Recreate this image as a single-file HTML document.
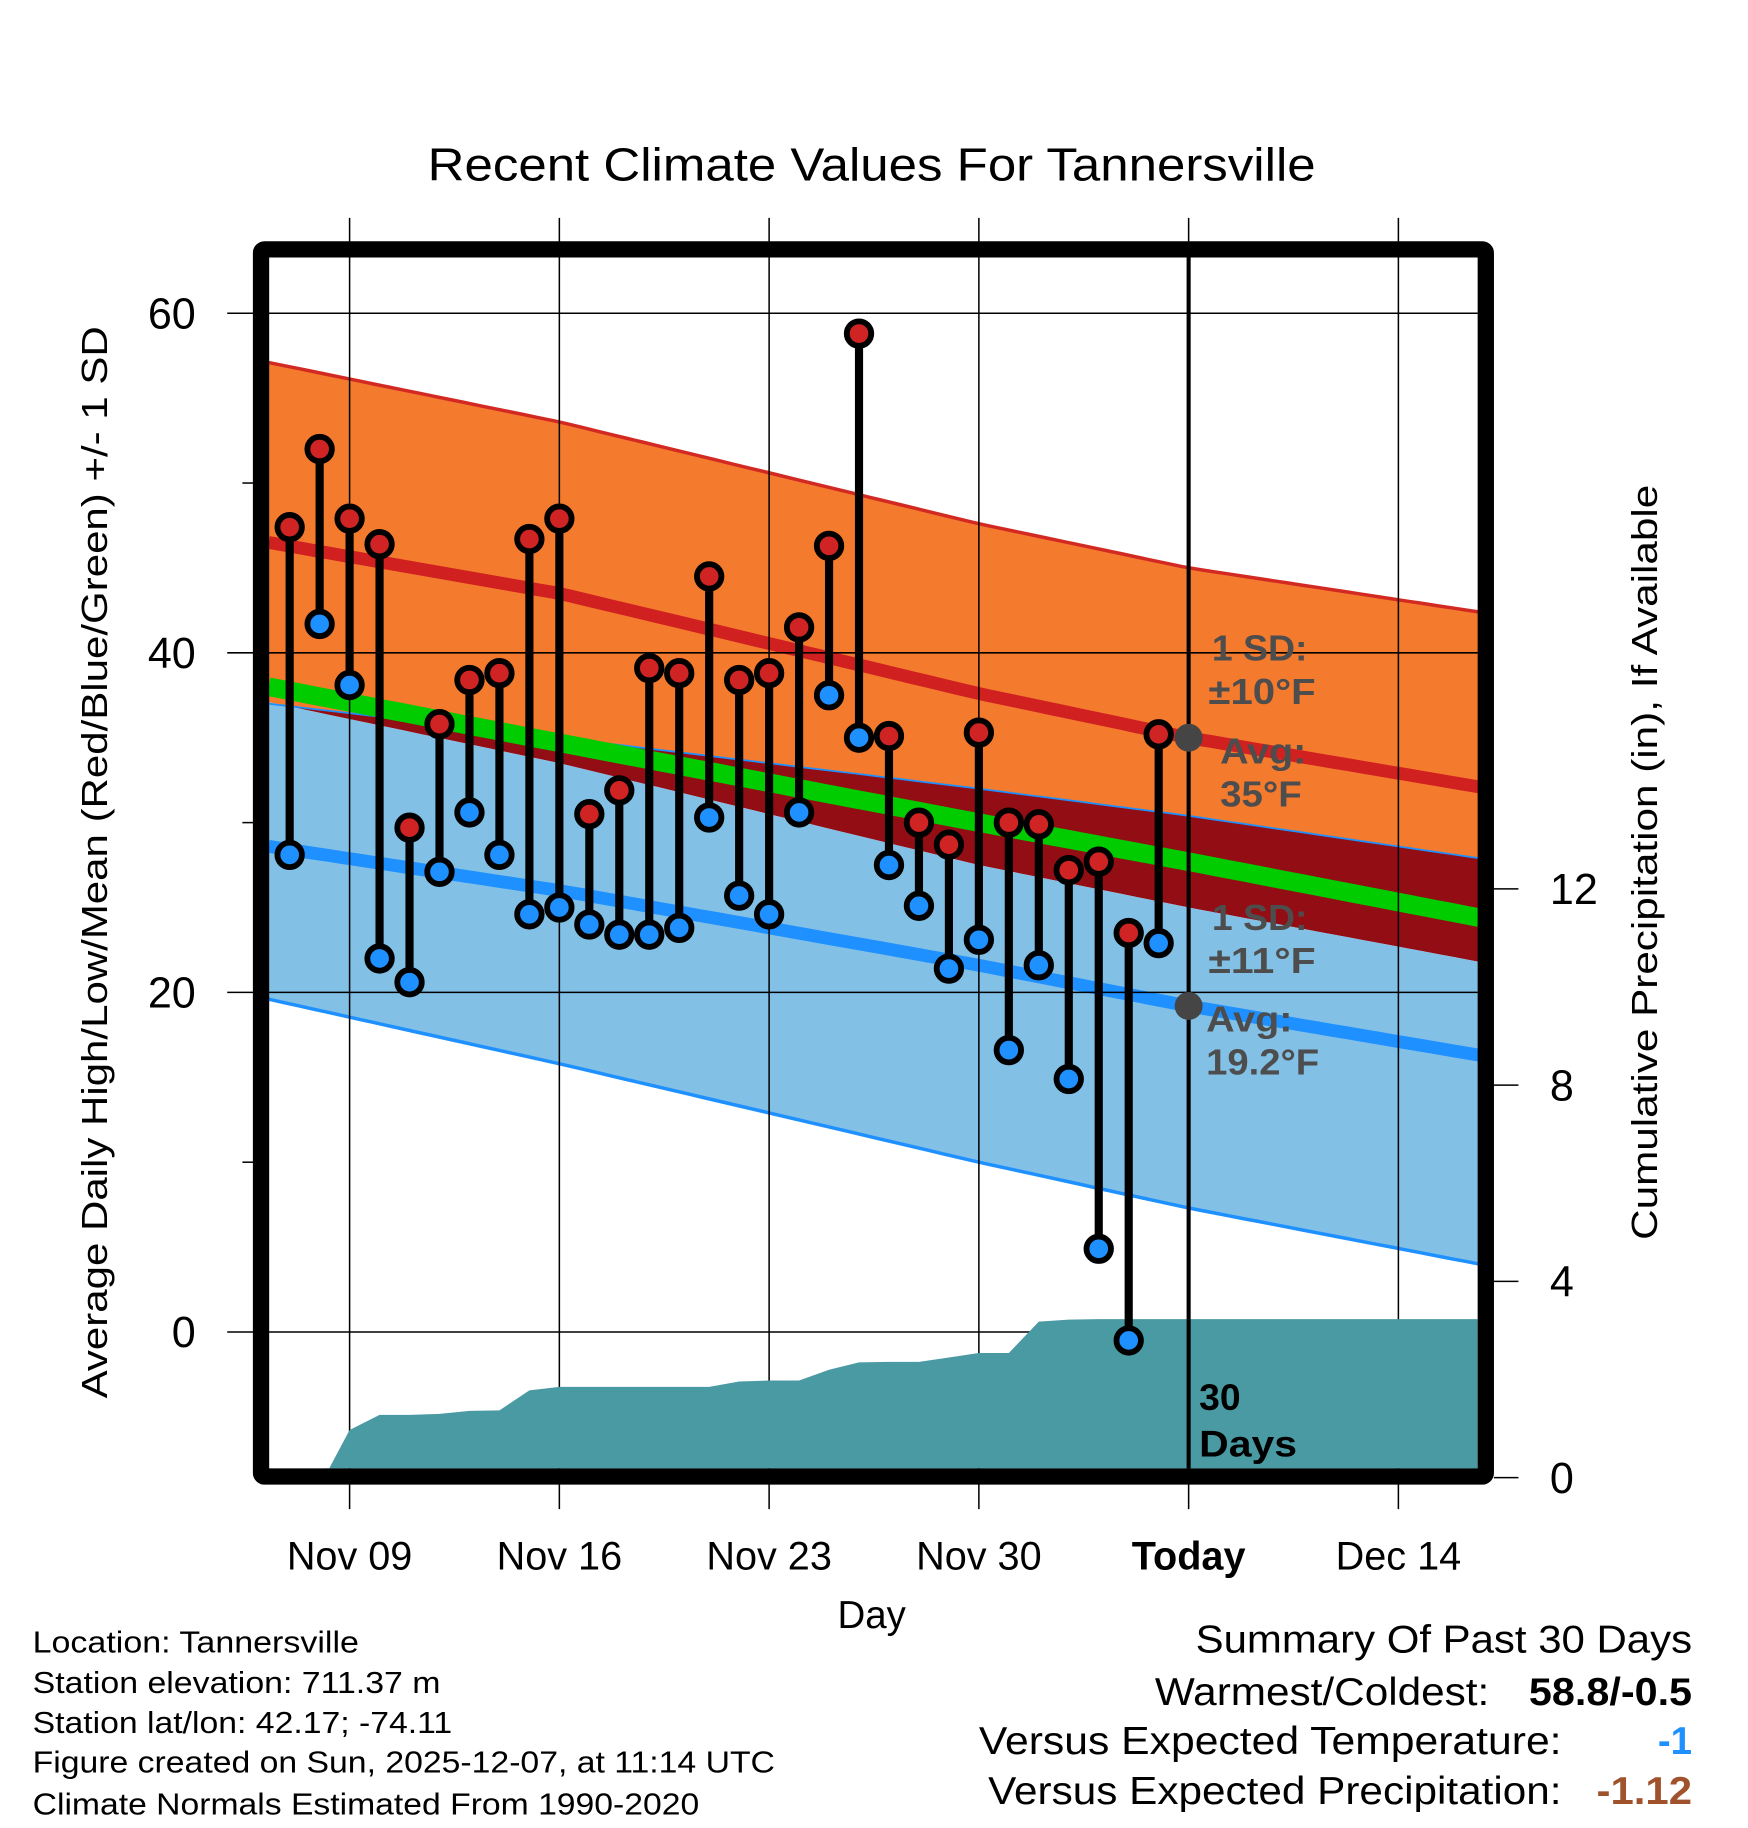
<!DOCTYPE html>
<html><head><meta charset="utf-8"><style>
html,body{margin:0;padding:0;background:#fff;}
svg{display:block;}
text{font-family:"Liberation Sans",sans-serif;}
</style></head>
<body>
<svg id="chart" width="1748" height="1828" viewBox="0 0 1500 1568.65" preserveAspectRatio="none" xmlns="http://www.w3.org/2000/svg">
<g id="bands"></g>
<g id="grid"></g>
<g id="precip"></g>
<g id="marks"></g>
<g id="overlay"></g>
<g id="axes"></g>

<text x="748" y="155" font-size="40" text-anchor="middle" textLength="762" lengthAdjust="spacingAndGlyphs">Recent Climate Values For Tannersville</text>
<text transform="translate(92,740) rotate(-90)" font-size="31" text-anchor="middle" textLength="920" lengthAdjust="spacingAndGlyphs">Average Daily High/Low/Mean (Red/Blue/Green) +/- 1 SD</text>
<text transform="translate(1422,740) rotate(-90)" font-size="31" text-anchor="middle" textLength="648" lengthAdjust="spacingAndGlyphs">Cumulative Precipitation (in), If Available</text>
<text x="748" y="1397" font-size="33" text-anchor="middle">Day</text>

<g font-size="26">
<text x="28" y="1418" textLength="280" lengthAdjust="spacingAndGlyphs">Location: Tannersville</text>
<text x="28" y="1453" textLength="350" lengthAdjust="spacingAndGlyphs">Station elevation: 711.37 m</text>
<text x="28" y="1487" textLength="360" lengthAdjust="spacingAndGlyphs">Station lat/lon: 42.17; -74.11</text>
<text x="28" y="1521" textLength="637" lengthAdjust="spacingAndGlyphs">Figure created on Sun, 2025-12-07, at 11:14 UTC</text>
<text x="28" y="1557" textLength="572" lengthAdjust="spacingAndGlyphs">Climate Normals Estimated From 1990-2020</text>
</g>
<g font-size="33">
<text x="1452" y="1418" text-anchor="end" textLength="426" lengthAdjust="spacingAndGlyphs">Summary Of Past 30 Days</text>
<text x="1278" y="1463" text-anchor="end" textLength="287" lengthAdjust="spacingAndGlyphs">Warmest/Coldest:</text>
<text x="1452" y="1463" text-anchor="end" font-weight="bold" textLength="140" lengthAdjust="spacingAndGlyphs">58.8/-0.5</text>
<text x="1340" y="1505" text-anchor="end" textLength="500" lengthAdjust="spacingAndGlyphs">Versus Expected Temperature:</text>
<text x="1452" y="1505" text-anchor="end" font-weight="bold" fill="#1e90ff">-1</text>
<text x="1340" y="1548" text-anchor="end" textLength="492" lengthAdjust="spacingAndGlyphs">Versus Expected Precipitation:</text>
<text x="1452" y="1548" text-anchor="end" font-weight="bold" fill="#a0522d" textLength="82" lengthAdjust="spacingAndGlyphs">-1.12</text>
</g>
</svg>
<script>
// ---- data ----
const dayLabels = ["Nov 07","Nov 08","Nov 09","Nov 10","Nov 11","Nov 12","Nov 13","Nov 14","Nov 15","Nov 16","Nov 17","Nov 18","Nov 19","Nov 20","Nov 21","Nov 22","Nov 23","Nov 24","Nov 25","Nov 26","Nov 27","Nov 28","Nov 29","Nov 30","Dec 01","Dec 02","Dec 03","Dec 04","Dec 05","Dec 06"];
const highs = [47.4,52.0,47.9,46.4,29.7,35.8,38.4,38.8,46.7,47.9,30.5,31.9,39.1,38.8,44.5,38.4,38.8,41.5,46.3,58.8,35.1,30.0,28.7,35.3,30.0,29.9,27.2,27.7,23.5,35.2];
const lows  = [28.1,41.7,38.1,22.0,20.6,27.1,30.6,28.1,24.6,25.0,24.0,23.4,23.4,23.8,30.3,25.7,24.6,30.6,37.5,35.0,27.5,25.1,21.4,23.1,16.6,21.6,14.9,4.9,-0.5,22.9];
const precip = [0,0,0.97,1.28,1.28,1.30,1.36,1.37,1.78,1.85,1.85,1.85,1.85,1.85,1.85,1.96,1.98,1.98,2.20,2.35,2.36,2.36,2.45,2.54,2.54,3.18,3.22,3.23,3.23,3.23];
const normDays = [-2.7,7,21,28,37.7];
const hiPlus  = [57.1,53.6,47.6,45.0,42.4];
const hiNorm  = [46.5,43.5,37.6,35.0,32.1];
const hiMinus = [37.0,35.0,32.0,30.4,27.9];
const meanNorm= [38.0,34.7,30.0,27.7,24.4];
const loPlus  = [37.1,33.5,27.5,25.0,21.8];
const loNorm  = [28.6,26.0,21.6,19.2,16.3];
const loMinus = [19.6,15.8,10.0,7.3,4.0];
const xTickLabels = ["Nov 09","Nov 16","Nov 23","Nov 30","Today","Dec 14"];
const xTickDays = [0,7,14,21,28,35];
const yTicks = [0,20,40,60];
const yMinor = [10,30,50];
const pTicks = [0,4,8,12];
const firstDay = -2; // Nov 07 relative to Nov 09
const todayDay = 28;

// ---- axes ----
const L=231,R=1268,T=221,B=1260;
const X = d => 300 + d*25.714;
const Y = v => 1143 - v*14.57;
const YP = p => 1268 - p*42.1;
const NS="http://www.w3.org/2000/svg";
function mk(parent,tag,attrs){const e=document.createElementNS(NS,tag);for(const k in attrs)e.setAttribute(k,attrs[k]);parent.appendChild(e);return e;}
function interp(arr,d){for(let i=0;i<normDays.length-1;i++){if(d<=normDays[i+1]){const t=(d-normDays[i])/(normDays[i+1]-normDays[i]);return arr[i]+t*(arr[i+1]-arr[i]);}}return arr[arr.length-1];}
const samples=[];for(let d=normDays[0];d<normDays[4];d+=0.5)samples.push(d);samples.push(normDays[4]);
function line(arr){return samples.map(d=>X(d).toFixed(1)+","+Y(interp(arr,d)).toFixed(1));}
function band(a,b){return line(a).concat(line(b).reverse()).join(" ");}

const bands=document.getElementById('bands');
let e;
e=mk(bands,'polygon',{points:band(hiMinus,loPlus),fill:'#930d14'});

e=mk(bands,'polygon',{points:band(hiPlus,hiMinus),fill:'#f47a2e'});

e=mk(bands,'polygon',{points:band(loPlus,loMinus),fill:'#82c0e6'});

e=mk(bands,'polyline',{points:line(hiPlus).join(" "),fill:'none',stroke:'#d22a22','stroke-width':3});

e=mk(bands,'polyline',{points:line(hiMinus).join(" "),fill:'none',stroke:'#1e90ff','stroke-width':1.5});

e=mk(bands,'polyline',{points:line(loMinus).join(" "),fill:'none',stroke:'#1e90ff','stroke-width':3});

e=mk(bands,'polyline',{points:line(meanNorm).join(" "),fill:'none',stroke:'#00cc00','stroke-width':16});

e=mk(bands,'polyline',{points:line(hiNorm).join(" "),fill:'none',stroke:'#d02020','stroke-width':11});

e=mk(bands,'polyline',{points:line(loNorm).join(" "),fill:'none',stroke:'#1e90ff','stroke-width':11});


// grid
const grid=document.getElementById('grid');
xTickDays.forEach((d,i)=>{
  e=mk(grid,'line',{x1:X(d),x2:X(d),y1:187,y2:1295,stroke:'#000','stroke-width':1.3});
  
});
yTicks.forEach(v=>{
  e=mk(grid,'line',{x1:195,x2:R,y1:Y(v),y2:Y(v),stroke:'#000','stroke-width':1.3});
  
});

// precipitation
const pg=document.getElementById('precip');
let pts=[];
const startIdx=precip.findIndex(p=>p>0);
pts.push(X(firstDay+startIdx-1)+4+","+YP(0));
for(let i=startIdx;i<precip.length;i++)pts.push(X(firstDay+i)+","+YP(precip[i]));
pts.push(R+","+YP(precip[precip.length-1]));pts.push(R+","+B);pts.push((X(firstDay+startIdx-1)+4)+","+B);
e=mk(pg,'polygon',{points:pts.join(" "),fill:'#4a9aa4'});


// marks
const mg=document.getElementById('marks');
highs.forEach((h,i)=>{
  const x=X(firstDay+i);
  e=mk(mg,'line',{x1:x,x2:x,y1:Y(h),y2:Y(lows[i]),stroke:'#000','stroke-width':7});
  
});
highs.forEach((h,i)=>{
  const x=X(firstDay+i);
  e=mk(mg,'circle',{cx:x,cy:Y(h),r:10.5,fill:'#d02424',stroke:'#000','stroke-width':5});
  
  e=mk(mg,'circle',{cx:x,cy:Y(lows[i]),r:10.5,fill:'#1e90ff',stroke:'#000','stroke-width':5});
  
});

// overlay
const og=document.getElementById('overlay');
e=mk(og,'line',{x1:X(todayDay),x2:X(todayDay),y1:T,y2:B,stroke:'#000','stroke-width':3.5});

e=mk(og,'circle',{cx:X(todayDay),cy:Y(interp(hiNorm,todayDay)),r:12,fill:'#454545'});

e=mk(og,'circle',{cx:X(todayDay),cy:Y(interp(loNorm,todayDay)),r:12,fill:'#454545'});

const anns=[["1 SD:",1040,567,82],["±10°F",1037,604,92],["Avg:",1047,655,74],["35°F",1047,692,70],["1 SD:",1040,798,82],["±11°F",1037,835,92],["Avg:",1035,885,74],["19.2°F",1035,922,97]];
anns.forEach(a=>{
  e=mk(og,'text',{x:a[1],y:a[2],'font-size':31,'font-weight':'bold',fill:'#4d4d4d',textLength:a[3],lengthAdjust:'spacingAndGlyphs'});
  e.textContent=a[0];
  
});
e=mk(og,'text',{x:1029,y:1210,'font-size':32,'font-weight':'bold',fill:'#000'});e.textContent="30";

e=mk(og,'text',{x:1029,y:1250,'font-size':32,'font-weight':'bold',fill:'#000',textLength:84,lengthAdjust:'spacingAndGlyphs'});e.textContent="Days";


// axes / frame
const ag=document.getElementById('axes');
e=mk(ag,'rect',{x:224,y:214,width:1051,height:1053,fill:'none',stroke:'#000','stroke-width':14,rx:3});

yTicks.forEach(v=>{
  e=mk(ag,'text',{x:168,y:Y(v)+13,'font-size':37,'text-anchor':'end'});e.textContent=v;
  
});
yMinor.forEach(v=>{
  e=mk(ag,'line',{x1:208,x2:218,y1:Y(v),y2:Y(v),stroke:'#000','stroke-width':1.3});
  
});
pTicks.forEach(p=>{
  e=mk(ag,'line',{x1:1282,x2:1303,y1:YP(p),y2:YP(p),stroke:'#000','stroke-width':1.3});
  
  e=mk(ag,'text',{x:1330,y:YP(p)+13,'font-size':37});e.textContent=p;
  
});
xTickLabels.forEach((t,i)=>{
  e=mk(ag,'text',{x:X(xTickDays[i]),y:1347,'font-size':34,'text-anchor':'middle','font-weight':t==="Today"?'bold':'normal'});
  e.textContent=t;
  
});
</script>
</body></html>
